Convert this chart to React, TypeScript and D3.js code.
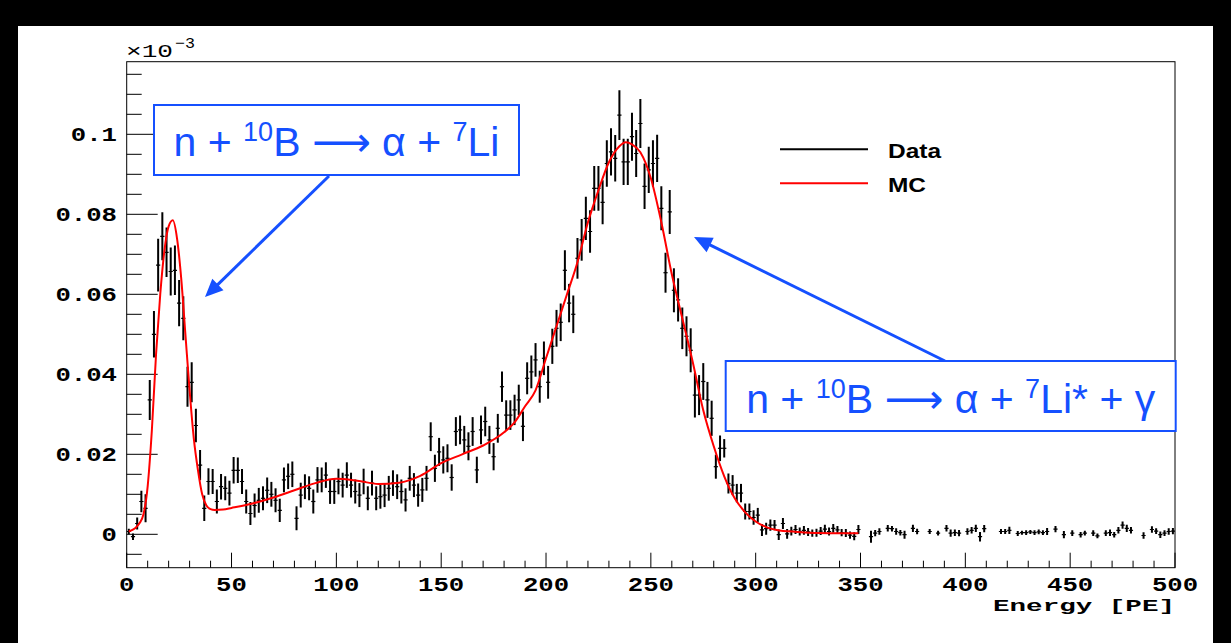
import React from 'react';
import * as d3 from 'd3';

// ---------- data (values in units of 10^-3, as on the axis) ----------
const energyDomain: [number, number] = [0, 500];
const valueDomain: [number, number] = [-0.00835, 0.11815];
const binStart = 0;
const binWidth = 2;

// data histogram, one value per 2-PE bin (null = empty bin, not drawn)
const dataValues: (number | null)[] = [
  0.0007, -0.0006, 0.0027, 0.0082, 0.0065, 0.0336, 0.0500, 0.0673, 0.0745, 0.0705,
  0.0657, 0.0660, 0.0578, 0.0540, 0.0369, 0.0380, 0.0272, 0.0173, 0.0065, 0.0132,
  0.0132, 0.0082, 0.0119, 0.0115, 0.0103, 0.0160, 0.0160, 0.0132, 0.0082, 0.0052,
  0.0072, 0.0085, 0.0090, 0.0110, 0.0100, 0.0085, 0.0060, 0.0136, 0.0145, 0.0150,
  0.0040, 0.0098, 0.0119, 0.0115, 0.0082, 0.0136, 0.0136, 0.0148, 0.0107, 0.0107,
  0.0132, 0.0123, 0.0148, 0.0123, 0.0107, 0.0098, 0.0132, 0.0090, 0.0128, 0.0090,
  0.0094, 0.0098, 0.0115, 0.0128, 0.0119, 0.0107, 0.0086, 0.0140, 0.0123, 0.0098,
  0.0111, 0.0140, 0.0244, 0.0165, 0.0206, 0.0186, 0.0190, 0.0142, 0.0257, 0.0261,
  0.0236, 0.0220, 0.0257, 0.0161, 0.0261, 0.0282, 0.0236, 0.0194, 0.0265, 0.0369,
  0.0298, 0.0298, 0.0311, 0.0336, 0.0270, 0.0390, 0.0406, 0.0436, 0.0369, 0.0440,
  0.0380, 0.0470, 0.0515, 0.0530, 0.0660, 0.0578, 0.0550, 0.0690, 0.0736, 0.0790,
  0.0757, 0.0865, 0.0865, 0.0830, 0.0927, 0.0956, 0.0940, 0.1048, 0.0931, 0.0931,
  0.0994, 0.0952, 0.1027, 0.0870, 0.0911, 0.0927, 0.0940, 0.0815, 0.0654, 0.0806,
  0.0610, 0.0586, 0.0515, 0.0495, 0.0460, 0.0348, 0.0348, 0.0382, 0.0336, 0.0290,
  0.0169, 0.0215, 0.0215, 0.0127, 0.0123, 0.0103, 0.0103, 0.0057, 0.0057, 0.0042,
  0.0048, 0.0011, 0.0014, 0.0023, 0.0023, -0.0001, 0.0027, 0.0001, 0.0008, 0.0012,
  0.0007, 0.0010, 0.0006, 0.0003, 0.0004, 0.0008, 0.0013, 0.0007, 0.0015, 0.0011,
  0.0004, 0.0003, -0.0002, -0.0005, 0.0012, null, null, -0.0006, 0.0003, 0.0007,
  null, 0.0015, 0.0014, 0.0007, 0.0004, -0.0001, null, 0.0015, 0.0007, null,
  null, 0.0007, null, 0.0003, null, 0.0015, 0.0003, 0.0004, 0.0003, null,
  0.0007, 0.0010, 0.0015, -0.0006, 0.0014, null, null, null, 0.0007, 0.0007,
  0.0010, null, 0.0002, 0.0004, 0.0004, 0.0006, 0.0004, 0.0006, 0.0004, 0.0007,
  null, 0.0013, null, -0.0001, null, 0.0003, null, -0.0001, 0.0003, null,
  0.0003, -0.0004, null, 0.0003, 0.0004, -0.0001, 0.0010, 0.0023, 0.0015, 0.0010,
  null, null, -0.0003, null, 0.0012, 0.0008, -0.0001, 0.0003, 0.0007, 0.0008,
];

// half-length of each data error bar
const dataErrors: (number | null)[] = [
  0.0007, 0.0008, 0.0015, 0.0027, 0.0035, 0.0050, 0.0058, 0.0066, 0.0060, 0.0062,
  0.0060, 0.0062, 0.0058, 0.0055, 0.0050, 0.0050, 0.0042, 0.0038, 0.0032, 0.0033,
  0.0031, 0.0030, 0.0032, 0.0030, 0.0031, 0.0033, 0.0032, 0.0031, 0.0030, 0.0029,
  0.0030, 0.0031, 0.0030, 0.0032, 0.0031, 0.0030, 0.0029, 0.0031, 0.0032, 0.0032,
  0.0030, 0.0031, 0.0031, 0.0030, 0.0030, 0.0032, 0.0031, 0.0032, 0.0031, 0.0031,
  0.0032, 0.0031, 0.0032, 0.0031, 0.0030, 0.0030, 0.0032, 0.0030, 0.0031, 0.0030,
  0.0030, 0.0030, 0.0031, 0.0032, 0.0031, 0.0030, 0.0029, 0.0031, 0.0030, 0.0029,
  0.0030, 0.0031, 0.0036, 0.0034, 0.0035, 0.0034, 0.0035, 0.0033, 0.0036, 0.0036,
  0.0035, 0.0035, 0.0036, 0.0033, 0.0036, 0.0037, 0.0035, 0.0034, 0.0036, 0.0038,
  0.0037, 0.0037, 0.0038, 0.0038, 0.0037, 0.0040, 0.0041, 0.0042, 0.0040, 0.0042,
  0.0041, 0.0044, 0.0046, 0.0047, 0.0050, 0.0048, 0.0047, 0.0051, 0.0052, 0.0054,
  0.0053, 0.0056, 0.0056, 0.0055, 0.0058, 0.0059, 0.0058, 0.0062, 0.0058, 0.0058,
  0.0060, 0.0059, 0.0061, 0.0057, 0.0058, 0.0058, 0.0059, 0.0055, 0.0050, 0.0055,
  0.0055, 0.0054, 0.0052, 0.0050, 0.0055, 0.0056, 0.0050, 0.0046, 0.0045, 0.0044,
  0.0030, 0.0032, 0.0023, 0.0025, 0.0025, 0.0023, 0.0023, 0.0020, 0.0020, 0.0018,
  0.0018, 0.0015, 0.0015, 0.0014, 0.0013, 0.0013, 0.0014, 0.0012, 0.0011, 0.0011,
  0.0010, 0.0011, 0.0010, 0.0009, 0.0010, 0.0010, 0.0011, 0.0010, 0.0011, 0.0010,
  0.0009, 0.0010, 0.0009, 0.0010, 0.0011, null, null, 0.0015, 0.0008, 0.0008,
  null, 0.0008, 0.0007, 0.0008, 0.0007, 0.0010, null, 0.0009, 0.0007, null,
  null, 0.0006, null, 0.0006, null, 0.0008, 0.0009, 0.0008, 0.0008, null,
  0.0008, 0.0008, 0.0009, 0.0012, 0.0009, null, null, null, 0.0006, 0.0006,
  0.0009, null, 0.0006, 0.0005, 0.0006, 0.0005, 0.0006, 0.0006, 0.0006, 0.0009,
  null, 0.0008, null, 0.0009, null, 0.0007, null, 0.0007, 0.0006, null,
  0.0007, 0.0006, null, 0.0007, 0.0008, 0.0007, 0.0008, 0.0009, 0.0009, 0.0008,
  null, null, 0.0008, null, 0.0008, 0.0007, 0.0008, 0.0007, 0.0008, 0.0008,
];

// MC prediction (red curve)
const mcEnergy = [
  1, 4, 6, 8, 10, 12, 14, 16, 18, 20, 22, 24, 26, 28, 30, 32, 34, 36, 38, 40,
  42, 46, 50, 60, 70, 80, 90, 100, 110, 120, 130, 140, 150, 160, 170, 180, 185,
  190, 195, 200, 205, 210, 215, 220, 225, 230, 235, 238, 241, 245, 250, 255, 260,
  265, 270, 275, 280, 285, 290, 295, 300, 305, 310, 320, 330, 340, 349,
];
const mcValue = [
  0.0007, 0.0015, 0.0027, 0.0050, 0.0120, 0.0260, 0.0450, 0.0600, 0.0710, 0.0770,
  0.0785, 0.0740, 0.0640, 0.0500, 0.0360, 0.0240, 0.0160, 0.0100, 0.0072, 0.0063,
  0.0061, 0.0062, 0.0066, 0.0077, 0.0092, 0.0110, 0.0128, 0.0139, 0.0134, 0.0126,
  0.0129, 0.0146, 0.0178, 0.0200, 0.0222, 0.0255, 0.0280, 0.0320, 0.0360, 0.0440,
  0.0520, 0.0600, 0.0680, 0.0780, 0.0860, 0.0930, 0.0970, 0.0980, 0.0975, 0.0955,
  0.0890, 0.0780, 0.0650, 0.0540, 0.0430, 0.0310, 0.0220, 0.0145, 0.0090, 0.0055,
  0.0032, 0.0018, 0.0011, 0.0006, 0.0003, 0.00025, 0.00025,
];

const yMajorTicks = [0, 0.02, 0.04, 0.06, 0.08, 0.1];
const yTickLabels = ['0', '0.02', '0.04', '0.06', '0.08', '0.1'];
const xMajorTicks = [0, 50, 100, 150, 200, 250, 300, 350, 400, 450, 500];
const xTickLabels = ['0', '50', '100', '150', '200', '250', '300', '350', '400', '450', '500'];
const legendLabels = ['Data', 'MC'];
const legendColors = ['#000000', '#ff0000'];
const xAxisTitle = 'Energy [PE]';

const BLUE = '#1550ff';

export default function App() {
  const frame = { left: 126.7, right: 1175, top: 61.7, bottom: 567.7 };
  const x = d3.scaleLinear().domain(energyDomain).range([frame.left, frame.right]);
  const y = d3.scaleLinear().domain(valueDomain).range([frame.bottom, frame.top]);

  const yMinor = d3.range(-0.005, 0.1151, 0.005).filter(
    (t) => !yMajorTicks.some((m) => Math.abs(m - t) < 1e-9)
  );
  const xMinor = d3.range(0, 501, 10).filter((t) => t % 50 !== 0);

  const mcLine = d3
    .line<number>()
    .x((_, i) => x(mcEnergy[i]))
    .y((v) => y(v))
    .curve(d3.curveMonotoneX)(mcValue) as string;

  const bins = dataValues
    .map((v, i) => ({
      lo: binStart + i * binWidth,
      hi: binStart + (i + 1) * binWidth,
      v,
      e: dataErrors[i],
    }))
    .filter((b) => b.v !== null && b.e !== null) as { lo: number; hi: number; v: number; e: number }[];

  const charW = 15.4;
  const monoFont = "'Liberation Mono', 'DejaVu Sans Mono', monospace";
  const sansFont = "'Liberation Sans', Arial, sans-serif";
  const arrowFont = "'DejaVu Sans', sans-serif";

  const arrowHead = (x1: number, y1: number, x2: number, y2: number, len = 18, half = 8) => {
    const a = Math.atan2(y2 - y1, x2 - x1);
    const bx = x2 - len * Math.cos(a);
    const by = y2 - len * Math.sin(a);
    const px = -Math.sin(a) * half;
    const py = Math.cos(a) * half;
    return `M${x2},${y2}L${bx + px},${by + py}L${bx - px},${by - py}Z`;
  };
  const arrowLine = (x1: number, y1: number, x2: number, y2: number, len = 18) => {
    const a = Math.atan2(y2 - y1, x2 - x1);
    return { x1, y1, x2: x2 - (len - 2) * Math.cos(a), y2: y2 - (len - 2) * Math.sin(a) };
  };

  const a1 = { x1: 329, y1: 176, x2: 205, y2: 297 };
  const a2 = { x1: 945, y1: 361, x2: 694, y2: 237 };
  const l1 = arrowLine(a1.x1, a1.y1, a1.x2, a1.y2);
  const l2 = arrowLine(a2.x1, a2.y1, a2.x2, a2.y2);

  return (
    <svg
      width={1231}
      height={643}
      style={{ position: 'absolute', left: 0, top: 0, display: 'block' }}
    >
      <rect x={0} y={0} width={1231} height={643} fill="#000" />
      <rect x={18} y={26} width={1195} height={617} fill="#fff" />

      <defs>
        <clipPath id="plotclip">
          <rect x={frame.left} y={frame.top} width={frame.right - frame.left} height={frame.bottom - frame.top} />
        </clipPath>
      </defs>

      {/* frame */}
      <rect
        x={frame.left}
        y={frame.top}
        width={frame.right - frame.left}
        height={frame.bottom - frame.top}
        fill="none"
        stroke="#000"
        strokeWidth={1}
      />

      {/* y ticks */}
      {yMajorTicks.map((t, i) => (
        <g key={'ym' + i}>
          <line x1={frame.left} x2={frame.left + 31} y1={y(t)} y2={y(t)} stroke="#000" strokeWidth={1} />
          <text
            x={117}
            y={y(t) + 6.5}
            textAnchor="end"
            fontFamily={monoFont}
            fontWeight="bold"
            fontSize={20}
            textLength={yTickLabels[i].length * charW}
            lengthAdjust="spacingAndGlyphs"
            fill="#000"
          >
            {yTickLabels[i]}
          </text>
        </g>
      ))}
      {yMinor.map((t, i) => (
        <line key={'yn' + i} x1={frame.left} x2={frame.left + 15} y1={y(t)} y2={y(t)} stroke="#000" strokeWidth={1} />
      ))}

      {/* x ticks */}
      {xMajorTicks.map((t, i) => (
        <g key={'xm' + i}>
          <line x1={x(t)} x2={x(t)} y1={frame.bottom} y2={frame.bottom - 15} stroke="#000" strokeWidth={1} />
          <text
            x={x(t)}
            y={590.7}
            textAnchor="middle"
            fontFamily={monoFont}
            fontWeight="bold"
            fontSize={20}
            textLength={xTickLabels[i].length * charW}
            lengthAdjust="spacingAndGlyphs"
            fill="#000"
          >
            {xTickLabels[i]}
          </text>
        </g>
      ))}
      {xMinor.map((t, i) => (
        <line key={'xn' + i} x1={x(t)} x2={x(t)} y1={frame.bottom} y2={frame.bottom - 7} stroke="#000" strokeWidth={1} />
      ))}

      {/* exponent label */}
      <text x={126} y={57} fontFamily={monoFont} fontSize={19} textLength={47} lengthAdjust="spacingAndGlyphs" fill="#000">
        ×10
      </text>
      <text x={175} y={48} fontFamily={monoFont} fontSize={15} textLength={20} lengthAdjust="spacingAndGlyphs" fill="#000">
        −3
      </text>

      {/* axis title */}
      <text
        x={1175}
        y={610.5}
        textAnchor="end"
        fontFamily={monoFont}
        fontWeight="bold"
        fontSize={16}
        textLength={182}
        lengthAdjust="spacingAndGlyphs"
        fill="#000"
      >
        {xAxisTitle}
      </text>

      {/* data + MC */}
      <g clipPath="url(#plotclip)">
        {bins.map((b, i) => {
          const cx = x((b.lo + b.hi) / 2);
          return (
            <g key={'d' + i}>
              <line x1={cx} x2={cx} y1={y(b.v - b.e)} y2={y(b.v + b.e)} stroke="#000" strokeWidth={2} />
              <line x1={x(b.lo)} x2={x(b.hi)} y1={y(b.v)} y2={y(b.v)} stroke="#000" strokeWidth={1.2} />
            </g>
          );
        })}
        <path d={mcLine} fill="none" stroke="#ff0000" strokeWidth={2} strokeLinejoin="round" />
      </g>

      {/* legend */}
      {legendLabels.map((lab, i) => (
        <g key={'lg' + i}>
          <line x1={780} x2={868} y1={149.3 + i * 34} y2={149.3 + i * 34} stroke={legendColors[i]} strokeWidth={2} />
          <text
            x={888}
            y={157.5 + i * 34.5}
            fontFamily={sansFont}
            fontWeight="bold"
            fontSize={20}
            textLength={lab === 'Data' ? 53 : 38}
            lengthAdjust="spacingAndGlyphs"
            fill="#000"
          >
            {lab}
          </text>
        </g>
      ))}

      {/* annotations */}
      <line {...l1} stroke={BLUE} strokeWidth={3} />
      <path d={arrowHead(a1.x1, a1.y1, a1.x2, a1.y2)} fill={BLUE} />
      <line {...l2} stroke={BLUE} strokeWidth={3} />
      <path d={arrowHead(a2.x1, a2.y1, a2.x2, a2.y2)} fill={BLUE} />

      <rect x={154} y={105} width={365} height={70} fill="#fff" stroke={BLUE} strokeWidth={2} />
      <text x={336.5} y={156} textAnchor="middle" fontFamily={sansFont} fontSize={41} fill={BLUE}>
        {'n + '}
        <tspan dy={-15} fontSize={27}>10</tspan>
        <tspan dy={15}>{'B '}</tspan>
        <tspan fontFamily={arrowFont}>⟶</tspan>
        <tspan>{' α + '}</tspan>
        <tspan dy={-15} fontSize={27}>7</tspan>
        <tspan dy={15}>Li</tspan>
      </text>

      <rect x={725.7} y={361} width={450} height={70} fill="#fff" stroke={BLUE} strokeWidth={2} />
      <text x={950.7} y={413.3} textAnchor="middle" fontFamily={sansFont} fontSize={41} fill={BLUE}>
        {'n + '}
        <tspan dy={-15} fontSize={27}>10</tspan>
        <tspan dy={15}>{'B '}</tspan>
        <tspan fontFamily={arrowFont}>⟶</tspan>
        <tspan>{' α + '}</tspan>
        <tspan dy={-15} fontSize={27}>7</tspan>
        <tspan dy={15}>{'Li* + γ'}</tspan>
      </text>
    </svg>
  );
}
